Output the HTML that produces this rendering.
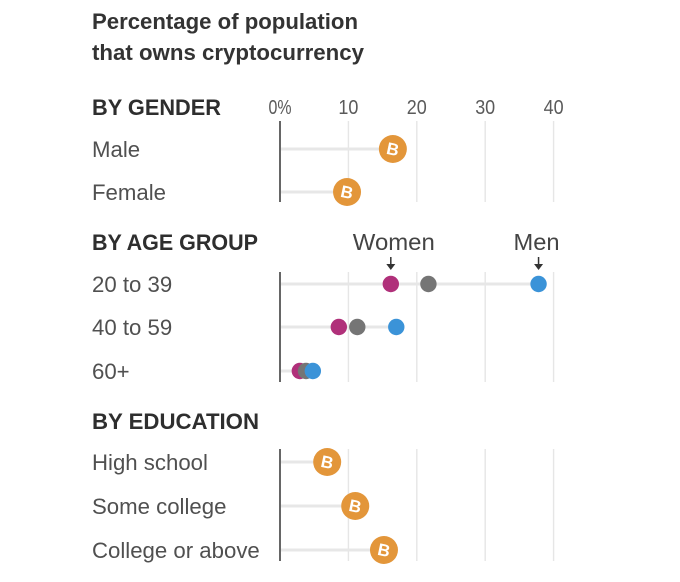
<!DOCTYPE html>
<html>
<head>
<meta charset="utf-8">
<title>Percentage of population that owns cryptocurrency</title>
<style>
html,body{margin:0;padding:0;background:#fff;width:680px;height:582px;overflow:hidden}
svg{display:block;font-family:"Liberation Sans",sans-serif}
.title{font-size:22px;font-weight:700;fill:#333}
.head{font-size:22px;font-weight:700;fill:#2e2e2e}
.row{font-size:22.2px;fill:#505050}
.tick{font-size:20px;fill:#5a5a5a}
.note{font-size:23.5px;fill:#444}
.btc{font-size:17px;font-weight:700;fill:#fff}
</style>
</head>
<body>
<svg id="chart" width="680" height="582" viewBox="0 0 680 582" xmlns="http://www.w3.org/2000/svg">
<g>
<text class="title" x="92" y="29" textLength="266" lengthAdjust="spacingAndGlyphs">Percentage of population</text>
<text class="title" x="92" y="60" textLength="272" lengthAdjust="spacingAndGlyphs">that owns cryptocurrency</text>
</g>
</svg>
<script>
const tickValues = [0, 10, 20, 30, 40];
const tickLabels = ['0%', '10', '20', '30', '40'];
const genderCategories = ['Male', 'Female'];
const genderValues = [16.5, 9.8];
const ageCategories = ['20 to 39', '40 to 59', '60+'];
const ageWomen = [16.2, 8.6, 2.9];
const ageAll = [21.7, 11.3, 3.8];
const ageMen = [37.8, 17, 4.8];
const educationCategories = ['High school', 'Some college', 'College or above'];
const educationValues = [6.9, 11, 15.2];

const svg = document.getElementById('chart');
const NS = 'http://www.w3.org/2000/svg';
const x = v => 280 + v * 6.84;

function make(tag, attrs, text) {
  const el = document.createElementNS(NS, tag);
  for (const k in attrs) el.setAttribute(k, attrs[k]);
  if (text !== undefined) el.textContent = text;
  svg.appendChild(el);
  return el;
}

function panel(top, bottom) {
  tickValues.forEach(t => {
    if (t === 0) return;
    const g = make('line', {x1: x(t), x2: x(t), y1: top, y2: bottom, stroke: '#e6e6e6', 'stroke-width': 1.4});
    
    
  });
}

function axisLine(top, bottom) {
  const a = make('line', {x1: x(0), x2: x(0), y1: top, y2: bottom, stroke: '#666', 'stroke-width': 2});
  
  
}

function heading(label, y, width) {
  const h = make('text', {class: 'head', x: 92, y: y, textLength: width, lengthAdjust: 'spacingAndGlyphs'}, label);
  
  
}

function rowLabel(label, y) {
  const r = make('text', {class: 'row', x: 92, y: y + 8}, label);
  
  
}

function stem(v, y) {
  const s = make('line', {x1: x(0), x2: x(v), y1: y, y2: y, stroke: '#e7e7e7', 'stroke-width': 3});
  
  
}

function coin(v, y) {
  const c = make('circle', {cx: x(v), cy: y, r: 14, fill: '#e3963a'});
  
  
  const b = make('text', {class: 'btc', x: 0, y: 6, 'text-anchor': 'middle', transform: 'translate(' + x(v) + ' ' + y + ') rotate(12)'}, 'B');
  
  
}

function dot(v, y, color, name) {
  const d = make('circle', {cx: x(v), cy: y, r: 8.2, fill: color});
  
  
}

function arrow(v, top) {
  const cx = x(v);
  const l = make('line', {x1: cx, x2: cx, y1: top, y2: top + 9, stroke: '#333', 'stroke-width': 1.5});
  
  
  const p = make('path', {d: 'M' + (cx - 4.5) + ' ' + (top + 7) + 'L' + (cx + 4.5) + ' ' + (top + 7) + 'L' + cx + ' ' + (top + 13) + 'Z', fill: '#333'});
  
  
}

/* gender */
heading('BY GENDER', 115, 129);
tickValues.forEach((t, i) => {
  const tl = make('text', {class: 'tick', x: x(t), y: 114, 'text-anchor': 'middle', textLength: i === 0 ? 23 : 20, lengthAdjust: 'spacingAndGlyphs'}, tickLabels[i]);
  
  
});
const genderY = [149, 192];
panel(121, 202);
genderCategories.forEach((c, i) => {
  rowLabel(c, genderY[i]);
  stem(genderValues[i], genderY[i]);
});
axisLine(121, 202);
genderCategories.forEach((c, i) => coin(genderValues[i], genderY[i]));

/* age */
heading('BY AGE GROUP', 250, 166);
const ageY = [284, 327, 371];
panel(272, 382);
ageCategories.forEach((c, i) => {
  rowLabel(c, ageY[i]);
  stem(Math.max(ageWomen[i], ageAll[i], ageMen[i]), ageY[i]);
});
axisLine(272, 382);
ageCategories.forEach((c, i) => {
  dot(ageWomen[i], ageY[i], '#b0307a', 'dot-women');
  dot(ageAll[i], ageY[i], '#757575', 'dot-overall');
  dot(ageMen[i], ageY[i], '#3b93d8', 'dot-men');
});
const w = make('text', {class: 'note', x: x(ageWomen[0]) + 3, y: 250, 'text-anchor': 'middle', textLength: 82, lengthAdjust: 'spacingAndGlyphs'}, 'Women');


const m = make('text', {class: 'note', x: x(ageMen[0]) - 2, y: 250, 'text-anchor': 'middle', textLength: 46, lengthAdjust: 'spacingAndGlyphs'}, 'Men');


arrow(ageWomen[0], 257);
arrow(ageMen[0], 257);

/* education */
heading('BY EDUCATION', 429, 167);
const eduY = [462, 506, 550];
panel(449, 561);
educationCategories.forEach((c, i) => {
  rowLabel(c, eduY[i]);
  stem(educationValues[i], eduY[i]);
});
axisLine(449, 561);
educationCategories.forEach((c, i) => coin(educationValues[i], eduY[i]));
</script>
</body>
</html>
